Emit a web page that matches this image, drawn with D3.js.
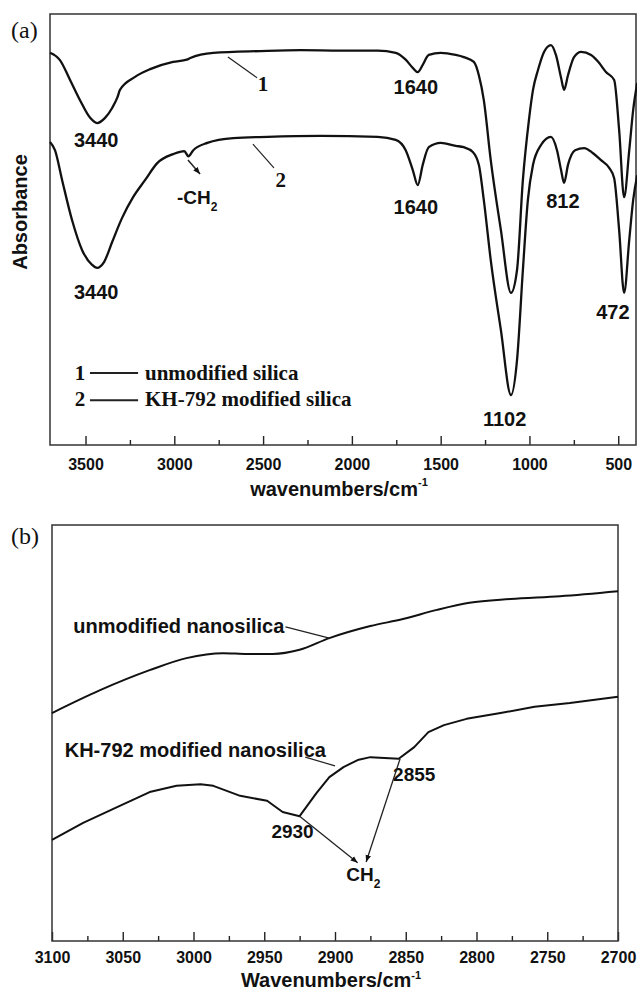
<!DOCTYPE html>
<html>
<head>
<meta charset="utf-8">
<script src="https://cdn.jsdelivr.net/npm/d3@7"></script>
<style>
  html, body { margin: 0; padding: 0; background: #fff; }
  svg { display: block; }
  text { font-family: "Liberation Sans", Arial, sans-serif; fill: #111; }
  .serif { font-family: "Liberation Serif", "Times New Roman", serif; }
</style>
</head>
<body>
<script>
// ---------------- DATA ----------------
// Panel (a): full-range FTIR spectra (wavenumber cm^-1, relative absorbance, arbitrary units)
const topWave1 = [3700,3644,3587,3531,3474,3435,3390,3350,3320,3306,3221,3136,3007,2930,2910,2780,2515,2289,2064,1855,1753,1697,1657,1629,1601,1567,1499,1415,1370,1313,1285,1257,1218,1161,1104,1070,1037,1003,980,952,918,879,851,822,805,783,749,709,653,613,568,523,495,467,438,416,393];
const topAbs1  = [91.0,89.3,84.7,80.0,75.9,74.7,75.9,78.2,80.7,82.4,85.4,87.2,88.9,89.4,89.8,91.0,91.4,91.6,91.5,91.5,91.0,89.4,87.5,86.5,88.2,90.5,91.0,90.5,90.0,88.9,85.8,80.0,66.1,49.9,35.3,40.6,61.5,75.4,82.4,87.0,91.2,92.8,90.5,85.2,82.4,85.8,90.0,91.2,90.5,88.9,86.5,84.7,73.1,57.5,68.4,77.7,84.0];
const topWave2 = [3700,3672,3632,3576,3519,3463,3435,3395,3350,3294,3232,3164,3096,3006,2944,2921,2893,2814,2667,2475,2176,1855,1753,1697,1657,1629,1601,1567,1499,1415,1370,1319,1285,1257,1218,1161,1104,1070,1037,1009,980,935,879,845,822,805,783,743,692,642,597,551,523,495,467,438,416,393];
const topAbs2  = [70.3,68.4,61.5,52.2,45.2,41.8,41.1,42.5,47.1,52.7,57.5,61.5,65.4,67.5,68.2,67.0,68.4,70.1,71.2,71.5,71.7,71.5,70.8,68.4,63.8,60.3,65.0,69.1,70.1,69.4,69.1,68.0,65.0,56.8,42.9,26.7,11.6,19.7,40.6,56.8,65.0,69.6,71.5,68.4,63.8,60.8,65.0,68.4,68.9,67.7,66.1,64.3,61.9,49.9,35.3,47.6,56.8,62.6];
const topMajorTicks = [3500,3000,2500,2000,1500,1000,500];
const topMinorTicks = [3250,2750,2250,1750,1250,750];
const topLegend = ["unmodified silica", "KH-792 modified silica"];

// Panel (b): C-H stretching region
const botWave1 = [3100,3066,3031,3005,2979,2962,2944,2925,2904,2875,2852,2828,2805,2776,2741,2700];
const botAbs1  = [54.8,60.3,65.1,68.0,69.2,69.0,69.0,70.0,72.8,75.7,77.4,79.6,81.3,82.2,82.9,84.1];
const botWave2 = [3100,3078,3054,3031,3012,2995,2986,2967,2948,2937,2925,2913,2904,2894,2884,2875,2865,2855,2844,2834,2823,2807,2783,2759,2734,2700];
const botAbs2  = [24.3,28.4,32.2,35.8,37.3,37.7,37.3,34.9,33.7,31.0,30.0,35.6,39.4,41.8,43.5,44.2,44.0,43.8,46.6,50.2,51.9,53.4,54.8,56.3,57.2,58.7];
const botMajorTicks = [3100,3050,3000,2950,2900,2850,2800,2750,2700];
const botMinorTicks = [3075,3025,2975,2925,2875,2825,2775,2725];

// ---------------- DRAW ----------------
const W = 637, H = 992;
const svg = d3.select("body").append("svg").attr("width", W).attr("height", H);

const defs = svg.append("defs");
defs.append("marker").attr("id", "arr").attr("viewBox", "0 0 10 10")
  .attr("refX", 10).attr("refY", 5).attr("markerWidth", 7).attr("markerHeight", 7)
  .attr("markerUnits", "userSpaceOnUse").attr("orient", "auto")
  .append("path").attr("d", "M0,1 L10,5 L0,9 Z").attr("fill", "#111");

function panel(cfg) {
  const x = d3.scaleLinear().domain(cfg.xDomain).range([cfg.left, cfg.right]);
  const y = d3.scaleLinear().domain([0, 100]).range([cfg.bottom, cfg.top]);
  const g = svg.append("g");

  g.append("g").attr("transform", `translate(0,${cfg.bottom})`)
    .call(d3.axisBottom(x).tickValues(cfg.minor).tickSize(-5).tickFormat(""))
    .call(a => a.select(".domain").remove())
    .call(a => a.selectAll("line").attr("stroke", "#222").attr("stroke-width", 1.4));
  const ax = g.append("g").attr("transform", `translate(0,${cfg.bottom})`)
    .call(d3.axisBottom(x).tickValues(cfg.major).tickSize(-9).tickFormat(d3.format("d")))
    .call(a => a.select(".domain").remove());
  ax.selectAll("line").attr("stroke", "#222").attr("stroke-width", 1.4);
  ax.selectAll("text").attr("dy", null).attr("y", cfg.tickLabelDy)
    .style("font-size", "16px").style("font-weight", "bold").attr("fill", "#111");

  g.append("rect").attr("x", cfg.left).attr("y", cfg.top)
    .attr("width", cfg.right - cfg.left).attr("height", cfg.bottom - cfg.top)
    .attr("fill", "none").attr("stroke", "#333").attr("stroke-width", 1.5);

  cfg.series.forEach(s => {
    const line = d3.line().x(d => x(d[0])).y(d => y(d[1])).curve(s.curve);
    g.append("path").datum(d3.zip(s.w, s.a))
      .attr("d", line).attr("fill", "none").attr("stroke", "#111")
      .attr("stroke-width", cfg.sw).attr("stroke-linejoin", "round");
  });

  const t = g.append("text").attr("x", (cfg.left + cfg.right) / 2 - 4).attr("y", cfg.titleY)
    .attr("text-anchor", "middle").style("font-size", "20px").style("font-weight", "bold");
  t.append("tspan").text(cfg.title);
  t.append("tspan").attr("dy", cfg.supDy).style("font-size", "11px").text("-1");

  return { x, y, g };
}

// ---- panel (a)
const A = panel({
  xDomain: [3700, 400], left: 50, right: 636, top: 14, bottom: 445,
  major: topMajorTicks, minor: topMinorTicks, tickLabelDy: 25,
  title: "wavenumbers/cm", titleY: 496, supDy: -10, sw: 2.3,
  series: [{ w: topWave1, a: topAbs1, curve: d3.curveMonotoneX },
           { w: topWave2, a: topAbs2, curve: d3.curveMonotoneX }]
});

svg.append("text").attr("class", "serif").attr("x", 11).attr("y", 38)
  .style("font-size", "24px").text("(a)");

svg.append("text").attr("transform", "translate(27,212) rotate(-90)")
  .attr("text-anchor", "middle").style("font-size", "20px").style("font-weight", "bold")
  .text("Absorbance");

function lbl(P, w, v, opts = {}) {
  const t = P.g.append("text").attr("x", P.x(w)).attr("y", P.y(v))
    .attr("text-anchor", opts.anchor || "middle")
    .style("font-size", (opts.size || 20) + "px").style("font-weight", "bold");
  if (opts.serif) t.attr("class", "serif");
  return t;
}
function seg(P, w1, v1, w2, v2, arrow, sw) {
  const l = P.g.append("line").attr("x1", P.x(w1)).attr("y1", P.y(v1))
    .attr("x2", P.x(w2)).attr("y2", P.y(v2)).attr("stroke", "#222").attr("stroke-width", sw || 1.2);
  if (arrow) l.attr("marker-end", "url(#arr)");
}

lbl(A, 3440, 69.1).text("3440");
lbl(A, 3440, 33.9).text("3440");
lbl(A, 1640, 81.4).text("1640");
lbl(A, 1640, 53.6).text("1640");
lbl(A, 812, 55.0).text("812");
lbl(A, 530, 29.2).text("472");
lbl(A, 1140, 4.4).text("1102");
lbl(A, 2500, 82.1, { serif: true, size: 21 }).text("1");
lbl(A, 2400, 59.9, { serif: true, size: 21 }).text("2");
seg(A, 2698, 90.0, 2534, 85.2);
seg(A, 2557, 69.8, 2439, 64.3);
{
  const t = lbl(A, 2985, 55.9, { anchor: "start", size: 19 });
  t.append("tspan").text("-CH");
  t.append("tspan").attr("dy", 7).style("font-size", "12px").text("2");
}
seg(A, 2923, 66.1, 2855, 62.9, true, 1.5);

// legend (a)
topLegend.forEach((name, i) => {
  const vBase = [15.1, 9.0][i], vLine = [16.7, 10.4][i];
  lbl(A, 3531, vBase, { serif: true, size: 21 }).text(String(i + 1));
  seg(A, 3475, vLine, 3204, vLine, false, 2);
  lbl(A, 3165, vBase, { serif: true, size: 21, anchor: "start" }).text(name);
});

// ---- panel (b)
const B = panel({
  xDomain: [3100, 2700], left: 52, right: 618, top: 525, bottom: 941,
  major: botMajorTicks, minor: botMinorTicks, tickLabelDy: 22,
  title: "Wavenumbers/cm", titleY: 987, supDy: -8, sw: 2,
  series: [{ w: botWave1, a: botAbs1, curve: d3.curveMonotoneX },
           { w: botWave2, a: botAbs2, curve: d3.curveLinear }]
});

svg.append("text").attr("class", "serif").attr("x", 11).attr("y", 544)
  .style("font-size", "24px").text("(b)");

lbl(B, 3085, 74.0, { anchor: "start", size: 20 }).text("unmodified nanosilica");
seg(B, 2935, 75.5, 2904, 72.8);
lbl(B, 3091, 44.2, { anchor: "start", size: 20 }).text("KH-792 modified nanosilica");
seg(B, 2921, 44.2, 2900, 42.1);
lbl(B, 2930, 24.8, { size: 19 }).text("2930");
lbl(B, 2844, 38.5, { size: 19 }).text("2855");
{
  const t = lbl(B, 2892, 14.4, { anchor: "start", size: 19 });
  t.append("tspan").text("CH");
  t.append("tspan").attr("dy", 7).style("font-size", "12px").text("2");
}
seg(B, 2925, 30.0, 2884, 18.8, true, 1.3);
seg(B, 2854, 43.8, 2878, 19.0, true, 1.3);
</script>
</body>
</html>
